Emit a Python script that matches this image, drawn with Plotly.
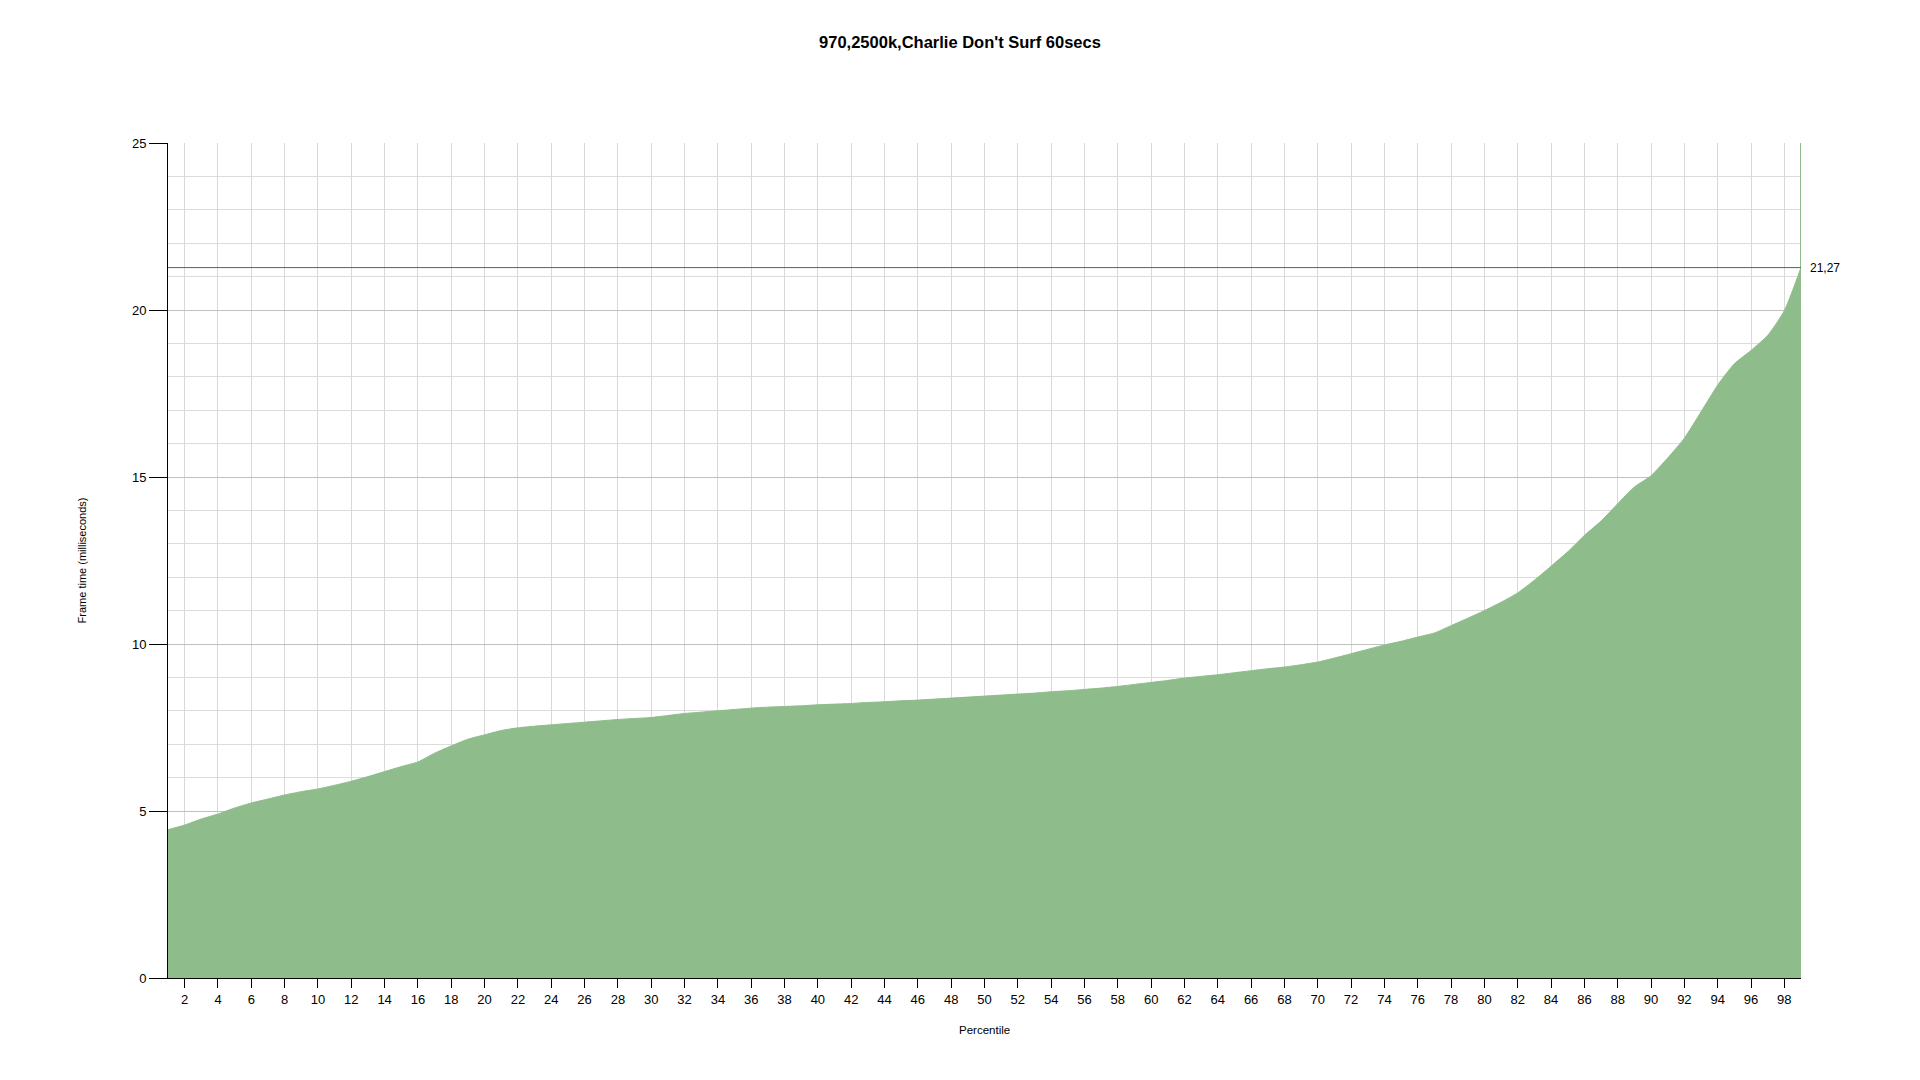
import plotly.graph_objects as go

percentiles = list(range(1, 100))
frame_time_ms = [
    4.44, 4.58, 4.76, 4.91, 5.09, 5.24, 5.36, 5.48, 5.58, 5.66,
    5.77, 5.89, 6.03, 6.18, 6.33, 6.47, 6.73, 6.95, 7.15, 7.28,
    7.41, 7.49, 7.54, 7.58, 7.62, 7.66, 7.70, 7.74, 7.77, 7.80,
    7.86, 7.92, 7.96, 8.00, 8.04, 8.08, 8.11, 8.13, 8.15, 8.18,
    8.20, 8.22, 8.25, 8.27, 8.30, 8.32, 8.35, 8.38, 8.41, 8.44,
    8.47, 8.50, 8.53, 8.57, 8.60, 8.64, 8.68, 8.73, 8.79, 8.85,
    8.91, 8.98, 9.03, 9.08, 9.14, 9.20, 9.26, 9.31, 9.38, 9.46,
    9.58, 9.71, 9.84, 9.97, 10.08, 10.21, 10.33, 10.55, 10.77, 11.00,
    11.25, 11.53, 11.91, 12.33, 12.76, 13.25, 13.68, 14.20, 14.70, 15.04,
    15.57, 16.16, 16.95, 17.75, 18.39, 18.79, 19.24, 19.98, 21.27,
]
x_tick_vals = list(range(2, 100, 2))
y_tick_vals = [0, 5, 10, 15, 20, 25]
max_value = 21.27
max_label = "21,27"
title_text = "970,2500k,Charlie Don't Surf 60secs"
x_title = "Percentile"
y_title = "Frame time (milliseconds)"

FONT = "Liberation Sans, Arial, sans-serif"
FILL = "#8FBC8B"

fig = go.Figure()
fig.add_trace(go.Scatter(
    x=percentiles, y=frame_time_ms, mode="lines",
    line=dict(color=FILL, width=1, shape="spline", smoothing=0.6),
    fill="tozeroy", fillcolor=FILL, hoverinfo="x+y", showlegend=False,
))

# vertical marker at the last percentile
fig.add_shape(type="line", xref="x", yref="y", x0=percentiles[-1], x1=percentiles[-1],
              y0=0, y1=25, line=dict(color=FILL, width=2), layer="above")
# horizontal max line
fig.add_shape(type="line", xref="x", yref="y", x0=percentiles[0], x1=percentiles[-1],
              y0=max_value, y1=max_value, line=dict(color="#2F7F2F", width=1), layer="above")

fig.add_annotation(x=1, xref="paper", y=max_value, yref="y", text=max_label,
                   showarrow=False, xanchor="left", yanchor="middle", xshift=7,
                   font=dict(family=FONT, size=12, color="#000000"))
fig.add_annotation(x=0.5, xref="paper", y=-0.0623, yref="paper", text=x_title,
                   showarrow=False, xanchor="center", yanchor="middle",
                   font=dict(family=FONT, size=11.5, color="#000000"))
fig.add_annotation(x=-0.0527, xref="paper", y=0.5, yref="paper", text=y_title,
                   showarrow=False, xanchor="center", yanchor="middle", textangle=-90,
                   font=dict(family=FONT, size=11, color="#000000"))

W, H = 1904, 1064
fig.update_layout(
    width=W, height=H,
    margin=dict(l=160, r=111, t=135, b=94),
    paper_bgcolor="white", plot_bgcolor="white",
    title=dict(text="<b>" + title_text + "</b>", x=0.5, xref="container",
               y=1 - 34.7 / H, yref="container", yanchor="middle", xanchor="center",
               font=dict(family=FONT, size=16.5, color="#000000")),
    font=dict(family=FONT, size=13, color="#000000"),
    xaxis=dict(range=[1, 99], tickvals=x_tick_vals, ticks="outside", ticklen=9,
               tickcolor="#000000", showline=True, linecolor="#000000", linewidth=1,
               showgrid=True, gridcolor="#D9D9D9", gridwidth=1, zeroline=False,
               tickfont=dict(family=FONT, size=13, color="#000000")),
    yaxis=dict(range=[0, 25], tickvals=y_tick_vals, ticks="outside", ticklen=18,
               tickcolor="#000000", showline=True, linecolor="#000000", linewidth=1,
               showgrid=True, gridcolor="#C0C0C0", gridwidth=1, zeroline=False,
               minor=dict(dtick=1, showgrid=True, gridcolor="#DCDCDC", gridwidth=1),
               tickfont=dict(family=FONT, size=13, color="#000000")),
)

fig.write_html("out.html")
